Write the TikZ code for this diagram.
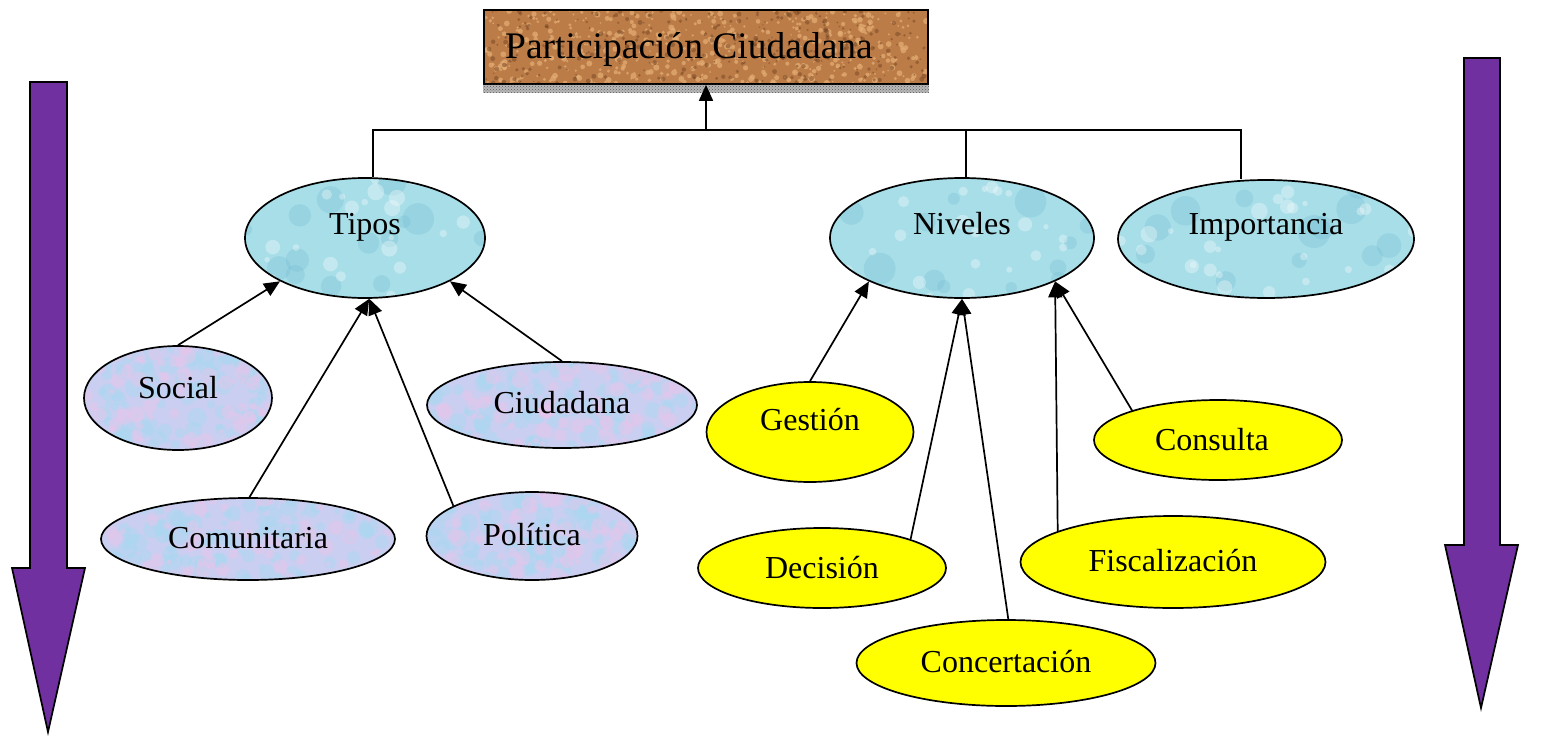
\documentclass[tikz,border=0pt]{standalone}
\usepackage{fontspec}
\setmainfont{Liberation Serif}
\usetikzlibrary{shapes.geometric,arrows.meta,patterns}

\definecolor{corkbase}{RGB}{188,124,72}
\definecolor{corklight}{RGB}{228,174,116}
\definecolor{corkdark}{RGB}{118,70,36}
\definecolor{waterbase}{RGB}{168,222,232}
\definecolor{waterdark}{RGB}{112,186,210}
\definecolor{pastelbase}{RGB}{202,206,240}
\definecolor{pastelA}{RGB}{172,216,240}
\definecolor{pastelB}{RGB}{230,198,236}
\definecolor{levelyellow}{RGB}{255,255,0}
\definecolor{flowpurple}{RGB}{112,48,160}

% random grain inside a w x h area centred on the origin
\newcommand\speckle[6]{%
  \foreach \k in {1,...,#3}{%
    \pgfmathsetmacro\px{(rnd-0.5)*#1}%
    \pgfmathsetmacro\py{(rnd-0.5)*#2}%
    \pgfmathsetmacro\pr{(0.4+rnd)*#5}%
    \fill[#4,opacity=#6] (\px,\py) circle[radius=\pr pt];
  }%
}

\tikzset{
  conn/.style={line width=1.7pt, -{Triangle[length=16pt,width=14pt]}},
  bus/.style={line width=1.7pt},
  lbl/.style={anchor=base, inner sep=0pt, font=\fontsize{32}{38}\selectfont},
  titlelbl/.style={anchor=base west, inner sep=0pt, font=\fontsize{37.5}{44}\selectfont},
  water/.style 2 args={ellipse, draw, line width=1.7pt, fill=waterbase,
    minimum width=#1pt, minimum height=#2pt, inner sep=0pt,
    path picture={\begin{scope}[shift={(path picture bounding box.center)}]
      \speckle{#1}{#2}{16}{waterdark}{12}{0.28}
      \speckle{#1}{#2}{26}{white}{6}{0.32}
    \end{scope}}},
  pastel/.style 2 args={ellipse, draw, line width=1.7pt, fill=pastelbase,
    minimum width=#1pt, minimum height=#2pt, inner sep=0pt,
    path picture={\begin{scope}[shift={(path picture bounding box.center)}]
      \speckle{#1}{#2}{110}{pastelA}{7}{0.55}
      \speckle{#1}{#2}{70}{pastelB}{6}{0.5}
    \end{scope}}},
  gold/.style 2 args={ellipse, draw, line width=1.7pt, fill=levelyellow,
    minimum width=#1pt, minimum height=#2pt, inner sep=0pt},
  corkbox/.style={rectangle, draw, line width=1.7pt, fill=corkbase,
    minimum width=444pt, minimum height=74pt, inner sep=0pt,
    path picture={\begin{scope}[shift={(path picture bounding box.center)}]
      \speckle{444}{74}{500}{corklight}{2.2}{0.7}
      \speckle{444}{74}{350}{corkdark}{1.8}{0.5}
    \end{scope}}},
  flow/.style={fill=flowpurple, draw=black, line width=1.7pt, line join=miter},
}

\begin{document}
\begin{tikzpicture}[x=1pt,y=-1pt]
\pgfmathsetseed{4271}
\useasboundingbox (0,0) rectangle (1564,742);
\fill[white] (0,0) rectangle (1564,742);

% side flow arrows
\draw[flow] (30,82) -- (67,82) -- (67,568) -- (85,568) -- (48,732) -- (12,568) -- (30,568) -- cycle;
\draw[flow] (1464,58) -- (1500,58) -- (1500,545) -- (1518,545) -- (1481,708) -- (1445,545) -- (1464,545) -- cycle;

% title box and its shadow strip
\node[corkbox] (title) at (706,47) {};
\fill[gray!55] (title.south west) rectangle ([yshift=-8pt]title.south east);
\fill[pattern=crosshatch dots, pattern color=black!65] (title.south west) rectangle ([yshift=-8pt]title.south east);
\node[titlelbl] (title-text) at (505,58) {Participación Ciudadana};

% main branches
\node[water={240}{120}] (tipos) at (365,238) {};
\node[water={264}{120}] (niveles) at (962,238) {};
\node[water={296}{118}] (importancia) at (1266,239) {};
\node[lbl] (tipos-t) at (365,234) {Tipos};
\node[lbl] (niveles-t) at (962,234) {Niveles};
\node[lbl] (importancia-t) at (1266,234) {Importancia};

% kinds
\node[pastel={188}{104}] (social) at (178,398) {};
\node[pastel={270}{86}] (ciudadana) at (562,405) {};
\node[pastel={294}{82}] (comunitaria) at (248,539) {};
\node[pastel={211}{88}] (politica) at (532,536) {};
\node[lbl] (social-t) at (178,398) {Social};
\node[lbl] (ciudadana-t) at (562,413) {Ciudadana};
\node[lbl] (comunitaria-t) at (248,548) {Comunitaria};
\node[lbl] (politica-t) at (532,545) {Política};

% levels
\node[gold={207}{100}] (gestion) at (810,432) {};
\node[gold={248}{80}] (consulta) at (1218,440) {};
\node[gold={248}{80}] (decision) at (822,568) {};
\node[gold={299}{86}] (concertacion) at (1006,663) {};
\node[gold={305}{92}] (fiscalizacion) at (1173,562) {};
\node[lbl] (gestion-t) at (810,430) {Gestión};
\node[lbl] (consulta-t) at (1212,450) {Consulta};
\node[lbl] (decision-t) at (822,578) {Decisión};
\node[lbl] (concertacion-t) at (1006,672) {Concertación};
\node[lbl] (fiscalizacion-t) at (1173,571) {Fiscalización};

% bus to the title
\coordinate (busL) at (373,130);
\coordinate (busN) at (966,130);
\coordinate (busR) at (1241,130);
\coordinate (hub) at (706,130);
\draw[bus] (busL |- tipos.north) -- (busL) -- (busR) -- (busR |- importancia.north);
\draw[bus] (busN) -- (busN |- niveles.north);
\draw[conn] (hub) -- (title.south);

% kinds -> Tipos
\draw[conn] (social.90) -- (tipos.207);
\draw[conn] (comunitaria.88) -- (tipos.274);
\draw[conn] (politica.159) -- (tipos.274);
\draw[conn] (ciudadana.90) -- (tipos.333);

% levels -> Niveles
\draw[conn] (gestion.90) -- (niveles.205);
\draw[conn] (decision.18) -- (niveles.270);
\draw[conn] (concertacion.87) -- (niveles.270);
\draw[conn] (fiscalizacion.165) -- (niveles.335);
\draw[conn] (consulta.161) -- (niveles.335);
\end{tikzpicture}
\end{document}
